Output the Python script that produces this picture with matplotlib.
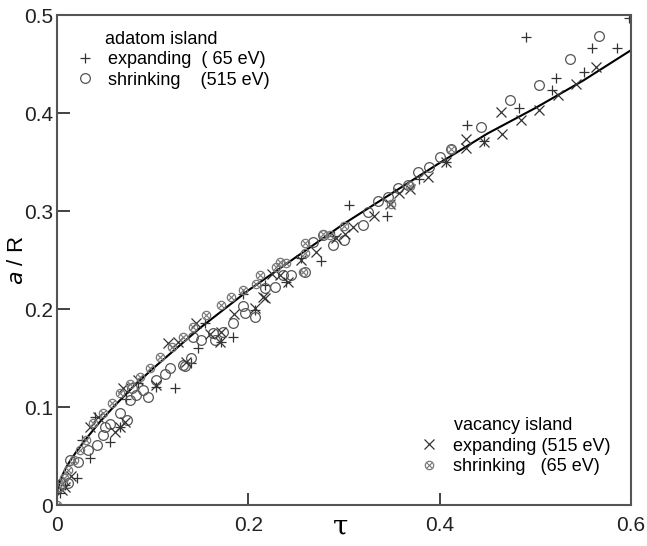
import matplotlib
matplotlib.use('Agg')
import matplotlib.pyplot as plt
from matplotlib.ticker import FuncFormatter

plt.rcParams['font.family'] = ['Liberation Sans', 'DejaVu Sans']

# fitted curve
curve_tau = [0.0, 0.003, 0.006, 0.01, 0.015, 0.02, 0.03, 0.045, 0.06, 0.08, 0.10,
             0.125, 0.15, 0.175, 0.20, 0.25, 0.30, 0.35, 0.40, 0.45, 0.50, 0.55, 0.60]
curve_a = [0.010, 0.024, 0.031, 0.039, 0.047, 0.054, 0.067, 0.085, 0.101, 0.121, 0.139,
           0.160, 0.181, 0.200, 0.219, 0.253, 0.287, 0.318, 0.349, 0.379, 0.405, 0.433, 0.464]

# adatom island, expanding (65 eV)
plus_tau = [0.003, 0.008, 0.0205, 0.0258, 0.0345, 0.040, 0.0554, 0.0658, 0.072, 0.085,
            0.104, 0.123, 0.1406, 0.147, 0.155, 0.172, 0.184, 0.195, 0.2068, 0.2172,
            0.2399, 0.255, 0.2764, 0.290, 0.3053, 0.345, 0.379, 0.407, 0.4285, 0.447,
            0.4836, 0.4905, 0.518, 0.522, 0.551, 0.559, 0.586, 0.598]
plus_a = [0.012, 0.020, 0.028, 0.066, 0.0476, 0.090, 0.064, 0.080, 0.108, 0.125,
          0.1207, 0.119, 0.145, 0.160, 0.186, 0.1667, 0.171, 0.215, 0.199, 0.225,
          0.228, 0.252, 0.249, 0.275, 0.306, 0.295, 0.333, 0.350, 0.388, 0.371,
          0.405, 0.478, 0.423, 0.436, 0.442, 0.466, 0.466, 0.497]

# adatom island, shrinking (515 eV)
circ_tau = [0.0049, 0.0118, 0.0136, 0.0222, 0.0327, 0.0415, 0.0484, 0.0501, 0.056, 0.0658,
            0.0728, 0.0762, 0.078, 0.083, 0.0901, 0.095, 0.104, 0.1128, 0.118, 0.132,
            0.1337, 0.1406, 0.142, 0.151, 0.165, 0.163, 0.1737, 0.184, 0.1946, 0.1963,
            0.2068, 0.2172, 0.2277, 0.2363, 0.245, 0.259, 0.2674, 0.278, 0.2886, 0.300,
            0.320, 0.325, 0.3356, 0.346, 0.3565, 0.367, 0.378, 0.389, 0.400, 0.412,
            0.4435, 0.474, 0.504, 0.536, 0.567]
circ_a = [0.022, 0.022, 0.046, 0.0442, 0.056, 0.0612, 0.0714, 0.080, 0.083, 0.0935,
          0.0867, 0.107, 0.119, 0.112, 0.117, 0.110, 0.1276, 0.134, 0.1395, 0.143,
          0.1418, 0.1497, 0.1717, 0.168, 0.168, 0.176, 0.1769, 0.1854, 0.203, 0.1956,
          0.192, 0.221, 0.2228, 0.2347, 0.2347, 0.238, 0.2687, 0.2755, 0.265, 0.270,
          0.2857, 0.299, 0.310, 0.3146, 0.323, 0.3265, 0.340, 0.345, 0.355, 0.363,
          0.386, 0.413, 0.429, 0.455, 0.479]

# vacancy island, expanding (515 eV)
cross_tau = [0.005, 0.0084, 0.015, 0.0345, 0.043, 0.0606, 0.0658, 0.071, 0.0693, 0.085,
             0.104, 0.1163, 0.1267, 0.135, 0.1458, 0.160, 0.170, 0.172, 0.185, 0.2068,
             0.2155, 0.2172, 0.225, 0.233, 0.2416, 0.255, 0.271, 0.292, 0.3008, 0.3095,
             0.331, 0.3485, 0.3575, 0.3687, 0.388, 0.407, 0.428, 0.428, 0.447, 0.4644,
             0.4654, 0.485, 0.504, 0.5236, 0.543, 0.5637]
cross_a = [0.0153, 0.0187, 0.030, 0.080, 0.090, 0.0748, 0.080, 0.085, 0.119, 0.128,
           0.1224, 0.1656, 0.1667, 0.146, 0.186, 0.175, 0.1667, 0.177, 0.195, 0.2007,
           0.2126, 0.211, 0.236, 0.2347, 0.228, 0.250, 0.2585, 0.272, 0.277, 0.284,
           0.2949, 0.307, 0.3187, 0.322, 0.335, 0.350, 0.364, 0.374, 0.370, 0.4013,
           0.3786, 0.393, 0.403, 0.418, 0.4296, 0.4466]

# vacancy island, shrinking (65 eV)
otimes_tau = [0.0, 0.003, 0.007, 0.012, 0.018, 0.024, 0.030, 0.038, 0.0484, 0.0571,
              0.0658, 0.0762, 0.0867, 0.0971, 0.1076, 0.12, 0.132, 0.142, 0.1563, 0.172,
              0.1824, 0.1946, 0.2086, 0.212, 0.2295, 0.233, 0.24, 0.257, 0.259, 0.259,
              0.278, 0.285, 0.300, 0.3495, 0.3687, 0.412]
otimes_a = [0.0, 0.018, 0.028, 0.036, 0.046, 0.056, 0.066, 0.0833, 0.0935, 0.1037,
            0.114, 0.124, 0.131, 0.1395, 0.1513, 0.1615, 0.1717, 0.182, 0.1939, 0.204,
            0.2126, 0.2194, 0.226, 0.2347, 0.243, 0.248, 0.2466, 0.238, 0.2568, 0.267,
            0.277, 0.2755, 0.285, 0.307, 0.326, 0.363]

fig = plt.figure(figsize=(6.47, 5.46), dpi=100)
ax = fig.add_axes([0.088, 0.075, 0.887, 0.8975])

ax.plot(curve_tau, curve_a, '-', color='black', lw=1.5, zorder=1)
hp, = ax.plot(plus_tau, plus_a, '+', color='#333333', ms=7, mew=0.9, ls='none')
hc, = ax.plot(circ_tau, circ_a, 'o', color='#555555', mfc='none', ms=7, mew=0.9, ls='none')
hx, = ax.plot(cross_tau, cross_a, 'x', color='#333333', ms=7, mew=0.9, ls='none')
ho, = ax.plot(otimes_tau, otimes_a, 'o', color='#777777', mfc='none', ms=6, mew=0.9, ls='none')
hox, = ax.plot(otimes_tau, otimes_a, 'x', color='#777777', ms=4.2, mew=0.8, ls='none')

ax.set_xlim(0, 0.6)
ax.set_ylim(0, 0.5)
ax.set_xticks([0, 0.2, 0.4, 0.6])
ax.set_yticks([0, 0.1, 0.2, 0.3, 0.4, 0.5])
fmt = FuncFormatter(lambda v, p: '0' if v == 0 else '%g' % v)
ax.xaxis.set_major_formatter(fmt)
ax.yaxis.set_major_formatter(fmt)
ax.tick_params(direction='in', length=9, width=1.2, labelsize=15, colors='#222222', pad=3)
ax.tick_params(axis='x', pad=8)
for s in ax.spines.values():
    s.set_linewidth(1.5)
    s.set_color('#555555')

ax.set_xlabel('τ', fontsize=20, family=['DejaVu Serif'], va='center')
ax.xaxis.set_label_coords(0.495, -0.045)
ax.set_ylabel('$\\it{a}$ / R', fontsize=16)
ax.yaxis.set_label_coords(-0.051, 0.5)

leg1 = ax.legend([hp, hc], ['expanding  ( 65 eV)', 'shrinking    (515 eV)'],
                 title='      adatom island', alignment='left',
                 loc='upper left', bbox_to_anchor=(0.019, 0.983),
                 frameon=False, fontsize=13, title_fontsize=13, handletextpad=0.75,
                 handlelength=1.1, labelspacing=0.2, borderaxespad=0)
ax.add_artist(leg1)
ax.legend([hx, (ho, hox)], ['expanding (515 eV)', 'shrinking   (65 eV)'],
          title='       vacancy island', alignment='left',
          loc='lower left', bbox_to_anchor=(0.618, 0.046),
          frameon=False, fontsize=13, title_fontsize=13, handletextpad=0.8,
          handlelength=1.1, labelspacing=0.2, borderaxespad=0)

fig.savefig('out.png', dpi=100)
